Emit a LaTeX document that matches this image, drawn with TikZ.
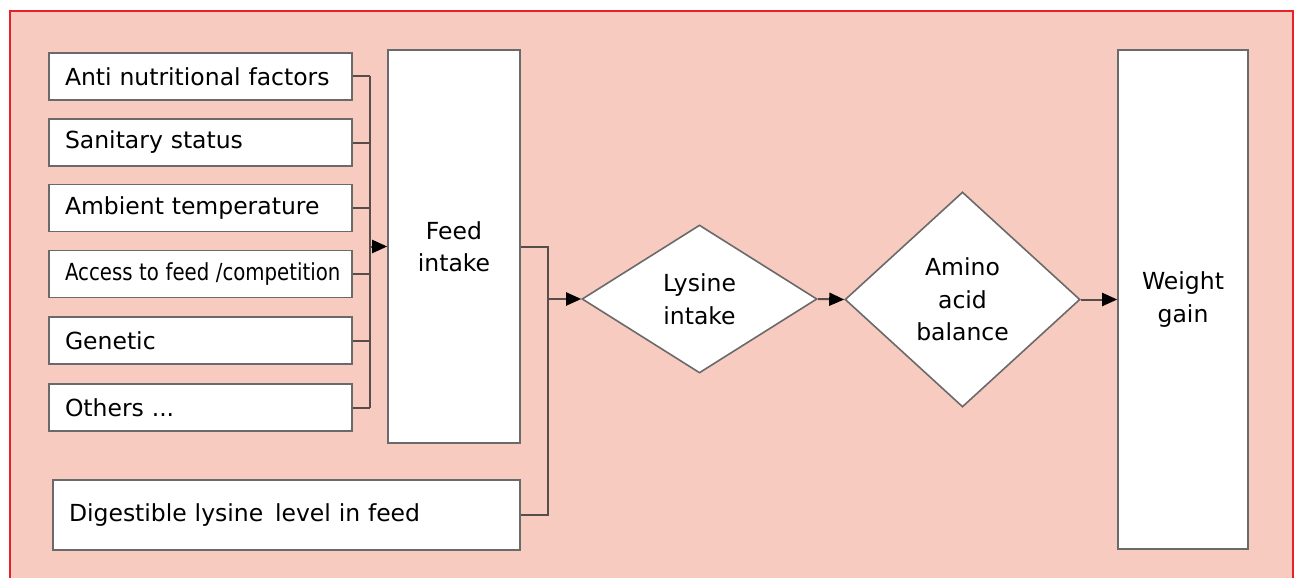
\documentclass[tikz,border=0pt]{standalone}
\usepackage{fontspec}
\setmainfont{DejaVu Sans}
\usetikzlibrary{shapes.geometric,arrows.meta}
\definecolor{bgsalmon}{HTML}{F7CBBF}
\definecolor{framered}{HTML}{E8202A}
\definecolor{linegray}{HTML}{574D4B}
\definecolor{boxgray}{HTML}{6A6A6A}
\tikzset{
  every node/.style={font=\fontsize{23.5}{32.5}\selectfont},
  factor/.style={draw=boxgray, line width=1.6pt, fill=white, text width=271pt, inner xsep=16pt, minimum height=47pt, align=left, inner ysep=0pt},
  tallbox/.style={draw=boxgray, line width=1.6pt, fill=white, align=center, inner sep=0pt},
  decision/.style={draw=boxgray, line width=1.6pt, fill=white, diamond, align=center, inner sep=0pt},
  conn/.style={draw=linegray, line width=2pt},
  arrowc/.style={conn, -{Triangle[length=15pt,width=13pt,color=black]}},
}
\begin{document}
\begin{tikzpicture}[x=1pt,y=-1pt]
\useasboundingbox (0,0) rectangle (1296,578);
\fill[white] (0,0) rectangle (1296,578);
\draw[framered, line width=2pt, fill=bgsalmon] (10,11) rectangle (1293,600);

\node[factor] (b1) at (200.5,76.5) {Anti nutritional factors};
\node[factor] (b2) at (200.5,142.5) {Sanitary status};
\node[factor] (b3) at (200.5,208) {Ambient temperature};
\node[factor] (b4) at (200.5,274) {\scalebox{0.84}[1]{Access to feed /competition}};
\node[factor] (b5) at (200.5,340.5) {Genetic};
\node[factor] (b6) at (200.5,407.5) {Others ...};

\node[tallbox, minimum width=132pt, minimum height=393pt] (feed) at (454,246.5) {Feed\\intake};
\node[tallbox, minimum width=467pt, minimum height=70pt, text width=435pt, align=left] (dig) at (286.5,515) {Digestible lysine\, level in feed};
\node[decision, minimum width=235pt, minimum height=148pt] (lys) at (699.5,299) {Lysine\\intake};
\node[decision, minimum width=235pt, minimum height=215pt] (amino) at (962.5,299.5) {Amino\\acid\\balance};
\node[tallbox, minimum width=130pt, minimum height=499pt] (wg) at (1183,299.5) {Weight\\gain};

\coordinate (bus) at (370,0);
\coordinate (jn) at (548,0);

\foreach \b in {b1,b2,b3,b4,b5,b6}{
  \draw[conn] (\b.east) -- (\b.east -| bus);
}
\draw[conn] (b1.east -| bus) -- (b6.east -| bus);
\draw[arrowc] (feed.west -| bus) -- (feed.west);

\draw[conn] (feed.east) -- (feed.east -| jn) -- (dig.east -| jn) -- (dig.east);
\draw[arrowc] (lys.west -| jn) -- (lys.west);
\draw[arrowc] (lys.east) -- (amino.west);
\draw[arrowc] (amino.east) -- (wg.west);
\end{tikzpicture}
\end{document}
